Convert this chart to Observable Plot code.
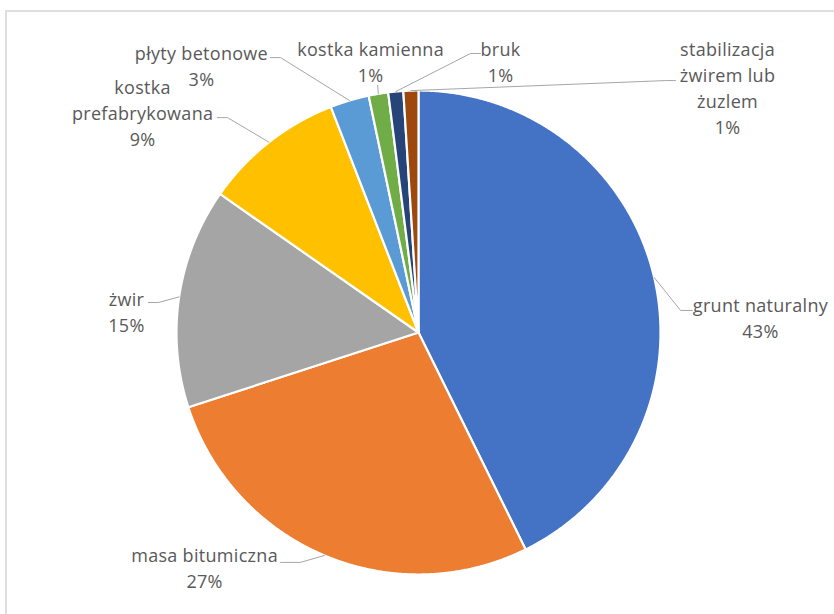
<!DOCTYPE html>
<html>
<head>
<meta charset="utf-8">
<script src="https://cdn.jsdelivr.net/npm/d3@7"></script>
<script src="https://cdn.jsdelivr.net/npm/@observablehq/plot@0.6"></script>
<style>
  html, body { margin: 0; padding: 0; background: #fff; }
  #wrap { position: relative; width: 834px; height: 614px; overflow: hidden; }
  #frame { position: absolute; left: 5px; top: 10px; width: 900px; height: 700px; border: 2px solid #dedede; box-sizing: border-box; }
  #chart { position: absolute; left: 0; top: 0; }
  #chart text { letter-spacing: 0.3px; }
</style>
</head>
<body>
<div id="wrap"><div id="frame"></div><div id="chart"></div></div>
<script>
// ---- data ----
const categories = ["grunt naturalny", "masa bitumiczna", "żwir", "kostka prefabrykowana", "płyty betonowe", "kostka kamienna", "bruk", "stabilizacja żwirem lub żuzlem"];
const values = [42.7, 27.3, 14.7, 9.4, 2.6, 1.3, 1.0, 1.0];
const labelNames = ["grunt naturalny", "masa bitumiczna", "żwir", "kostka\nprefabrykowana", "płyty betonowe", "kostka kamienna", "bruk", "stabilizacja\nżwirem lub\nżuzlem"];
const colors = ["#4472C4", "#ED7D31", "#A5A5A5", "#FFC000", "#5B9BD5", "#70AD47", "#264478", "#9E480E"];

// ---- label layout (units of pie radius) ----
const labelCenter = [[1.413, 0.064], [-0.884, -0.969], [-1.207, 0.091], [-1.140, 0.913], [-0.897, 1.105], [-0.198, 1.122], [0.339, 1.124], [1.277, 1.017]];
const leaderBends = [
  [[1.083, 0.091], [1.132, 0.091]],
  [[-0.488, -0.950], [-0.570, -0.950]],
  [[-1.074, 0.124], [-1.116, 0.124]],
  [[-0.789, 0.888], [-0.831, 0.888]],
  [[-0.570, 1.136], [-0.612, 1.136]],
  [[-0.169, 1.021]],
  [[0.215, 1.153], [0.256, 1.153]],
  [[1.021, 1.041], [1.062, 1.041]]
];

const total = d3.sum(values);
const arcs = d3.pie().sort(null).value(d => d).startAngle(0).endAngle(2 * Math.PI)(values);
const polar = (a, r) => [r * Math.sin(a), r * Math.cos(a)];

const slicePts = [];
arcs.forEach((a, i) => {
  slicePts.push({cat: categories[i], x: 0, y: 0});
  const n = Math.max(2, Math.ceil((a.endAngle - a.startAngle) / 0.005));
  for (let k = 0; k <= n; k++) {
    const t = a.startAngle + (a.endAngle - a.startAngle) * k / n;
    const [x, y] = polar(t, 1);
    slicePts.push({cat: categories[i], x, y});
  }
  slicePts.push({cat: categories[i], x: 0, y: 0});
});

const leaderPts = [];
arcs.forEach((a, i) => {
  const mid = (a.startAngle + a.endAngle) / 2;
  const [sx, sy] = polar(mid, 1);
  leaderPts.push({cat: categories[i], x: sx, y: sy});
  leaderBends[i].forEach(([x, y]) => leaderPts.push({cat: categories[i], x, y}));
});

const labels = categories.map((c, i) => ({
  cat: c,
  x: labelCenter[i][0],
  y: labelCenter[i][1],
  text: labelNames[i] + "\n" + Math.round(values[i] / total * 100) + "%"
}));

const R = 242, cx = 418, cy = 332, W = 834, H = 614;
const chart = Plot.plot({
  width: W,
  height: H,
  marginLeft: cx - R,
  marginRight: W - (cx + R),
  marginTop: cy - R,
  marginBottom: H - (cy + R),
  x: {domain: [-1, 1], axis: null},
  y: {domain: [-1, 1], axis: null},
  color: {domain: categories, range: colors},
  style: {background: "transparent", overflow: "visible"},
  marks: [
    Plot.line(slicePts, {x: "x", y: "y", z: "cat", fill: "cat", stroke: "#ffffff", strokeWidth: 2.2, strokeLinejoin: "round", curve: "linear"}),
    Plot.line(leaderPts, {x: "x", y: "y", z: "cat", stroke: "#a6a6a6", strokeWidth: 1, curve: "linear"}),
    Plot.text(labels, {x: "x", y: "y", text: "text", fill: "#595959", fontSize: 18, lineHeight: 26 / 18, fontFamily: "Open Sans, sans-serif", textAnchor: "middle"})
  ]
});
document.getElementById("chart").appendChild(chart);
</script>
</body>
</html>
